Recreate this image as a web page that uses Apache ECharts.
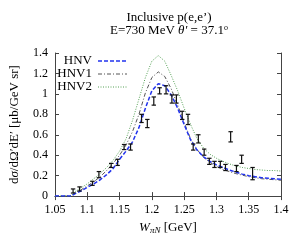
<!DOCTYPE html>
<html><head><meta charset="utf-8">
<script src="https://cdn.jsdelivr.net/npm/echarts@6/dist/echarts.min.js"></script>
<style>html,body{margin:0;padding:0;background:#fff}#c{width:300px;height:240px}</style>
</head><body><div id="c"></div>
<script>
// curve sample positions W [GeV]
var curveW = [1.05,1.06,1.07,1.075,1.08,1.09,1.10,1.11,1.12,1.13,1.14,1.15,1.16,1.17,1.18,1.19,1.20,1.21,1.22,1.23,1.24,1.25,1.26,1.27,1.28,1.29,1.30,1.31,1.32,1.33,1.34,1.35,1.36,1.37,1.38,1.39,1.40];
var hnv  = [0,0,0,0,0.02,0.05,0.085,0.12,0.16,0.21,0.27,0.36,0.44,0.53,0.67,0.86,1.03,1.10,1.08,0.99,0.86,0.70,0.55,0.45,0.385,0.34,0.305,0.28,0.255,0.235,0.215,0.20,0.19,0.18,0.175,0.17,0.165];
var hnv1 = [0,0,0,0,0.03,0.06,0.10,0.14,0.19,0.25,0.32,0.40,0.50,0.63,0.80,1.01,1.16,1.215,1.17,1.05,0.89,0.72,0.56,0.455,0.38,0.33,0.29,0.26,0.24,0.22,0.205,0.19,0.18,0.17,0.165,0.16,0.155];
var hnv2 = [0,0,0,0,0.04,0.08,0.12,0.17,0.22,0.28,0.35,0.44,0.56,0.74,0.95,1.16,1.32,1.375,1.32,1.18,1.03,0.86,0.70,0.56,0.47,0.41,0.37,0.34,0.315,0.295,0.28,0.27,0.26,0.255,0.25,0.25,0.245];
// measured points
var dataW   = [1.078,1.088,1.108,1.118,1.137,1.147,1.157,1.167,1.184,1.193,1.203,1.212,1.222,1.231,1.238,1.247,1.256,1.264,1.272,1.281,1.289,1.297,1.306,1.314,1.322,1.331,1.339,1.356];
var dataV   = [0.05,0.07,0.125,0.21,0.30,0.33,0.48,0.48,0.76,0.71,0.93,1.03,1.04,0.95,0.95,0.79,0.75,0.48,0.56,0.43,0.34,0.31,0.31,0.28,0.58,0.27,0.36,0.22];
var dataErr = [0.02,0.02,0.02,0.03,0.02,0.03,0.025,0.03,0.04,0.04,0.04,0.03,0.04,0.04,0.04,0.04,0.05,0.03,0.04,0.03,0.03,0.03,0.03,0.03,0.05,0.03,0.04,0.06];
var xTicks = ['1.05','1.1','1.15','1.2','1.25','1.3','1.35','1.4'];
var yTicks = ['0','0.2','0.4','0.6','0.8','1','1.2','1.4'];
var seriesNames = ['HNV','HNV1','HNV2'];

function pairs(xs, ys){ return xs.map(function(x,i){return [x, ys[i]];}); }
var errData = dataW.map(function(w,i){return [w, dataV[i], dataErr[i]];});

var serif = 'Liberation Serif';
var colors = ['#2233ee','#555555','#55a055'];
var dashes = [[4,2],[4,2,1,2],[1,1.5]];
var widths = [1.5,1,1];

// legend built as graphic (text right-aligned, sample line to the right)
var legendGraphics = [];
seriesNames.forEach(function(n,i){
  var yy = 61 + i*13;
  legendGraphics.push({type:'text', x:92, y:yy, style:{text:n, fill:'#000', font:'13px "Liberation Serif"', textAlign:'right', textVerticalAlign:'middle'}});
  legendGraphics.push({type:'line', shape:{x1:98, y1:yy, x2:127, y2:yy}, style:{stroke:colors[i], lineWidth:widths[i], lineDash:dashes[i]}});
});

var chart = echarts.init(document.getElementById('c'), null, {renderer:'canvas'});
var axisLine = {show:true, lineStyle:{color:'#444', width:1}};
var tick = {show:true, inside:true, length:4, lineStyle:{color:'#444'}};
chart.setOption({
  animation:false,
  backgroundColor:'#fff',
  textStyle:{fontFamily:serif},
  title:{
    text:'Inclusive p(e,e\u2019)\nE=730 MeV {it|\u03b8\u2032} = 37.1{sup|o}',
    left:164, top:6, textAlign:'center',
    textStyle:{fontFamily:serif, fontSize:13, fontWeight:'normal', color:'#000', lineHeight:13,
      rich:{it:{fontFamily:serif, fontStyle:'italic', fontSize:13}, sup:{fontFamily:serif, fontSize:8, verticalAlign:'top', lineHeight:10}}}
  },
  graphic:legendGraphics,
  grid:{left:48, right:19, top:53, bottom:41.5},
  xAxis:[{
    type:'value', min:1.05, max:1.4, interval:0.05,
    axisLine:axisLine, axisTick:tick, splitLine:{show:false},
    axisLabel:{fontFamily:serif, fontSize:12, color:'#000', margin:8,
      formatter:function(v){ var i=Math.round((v-1.05)/0.05); return xTicks[i]||''; }},
    name:'{w|W}{s|\u03c0N} [GeV]', nameLocation:'middle', nameGap:22,
    nameTextStyle:{fontFamily:serif, fontSize:13, color:'#000',
      rich:{w:{fontFamily:serif, fontStyle:'italic', fontSize:13}, s:{fontFamily:serif, fontStyle:'italic', fontSize:9, verticalAlign:'bottom', padding:[6,0,0,0]}}}
  },{
    type:'value', min:1.05, max:1.4, interval:0.05, position:'top',
    axisLine:axisLine, axisTick:tick, axisLabel:{show:false}, splitLine:{show:false}
  }],
  yAxis:[{
    type:'value', min:0, max:1.4, interval:0.2,
    axisLine:axisLine, axisTick:tick, splitLine:{show:false},
    axisLabel:{fontFamily:serif, fontSize:12, color:'#000', margin:7,
      formatter:function(v){ var i=Math.round(v/0.2); return yTicks[i]||''; }},
    name:'d{it|\u03c3}/d\u03a9\u2032dE\u2032 [\u03bcb/GeV sr]', nameLocation:'middle', nameGap:34,
    nameTextStyle:{fontFamily:serif, fontSize:13, color:'#000',
      rich:{it:{fontFamily:serif, fontStyle:'italic', fontSize:13}}}
  },{
    type:'value', min:0, max:1.4, interval:0.2, position:'right',
    axisLine:axisLine, axisTick:tick, axisLabel:{show:false}, splitLine:{show:false}
  }],
  series:[
    {name:'HNV', type:'line', symbol:'none', data:pairs(curveW,hnv), z:3,
      lineStyle:{color:colors[0], width:widths[0], type:dashes[0]}},
    {name:'HNV1', type:'line', symbol:'none', data:pairs(curveW,hnv1), z:2,
      lineStyle:{color:colors[1], width:widths[1], type:dashes[1]}},
    {name:'HNV2', type:'line', symbol:'none', data:pairs(curveW,hnv2), z:2,
      lineStyle:{color:colors[2], width:widths[2], type:dashes[2]}},
    {name:'data', type:'custom', data:errData, z:5, encode:{x:0, y:1},
      renderItem:function(params, api){
        var x=api.value(0), y=api.value(1), e=api.value(2);
        var t=api.coord([x,y+e]), b=api.coord([x,y-e]);
        var w=2.2, st={stroke:'#111', lineWidth:1.2};
        return {type:'group', children:[
          {type:'line', shape:{x1:t[0],y1:t[1],x2:b[0],y2:b[1]}, style:st},
          {type:'line', shape:{x1:t[0]-w,y1:t[1],x2:t[0]+w,y2:t[1]}, style:st},
          {type:'line', shape:{x1:b[0]-w,y1:b[1],x2:b[0]+w,y2:b[1]}, style:st}
        ]};
      }}
  ]
});
</script></body></html>
